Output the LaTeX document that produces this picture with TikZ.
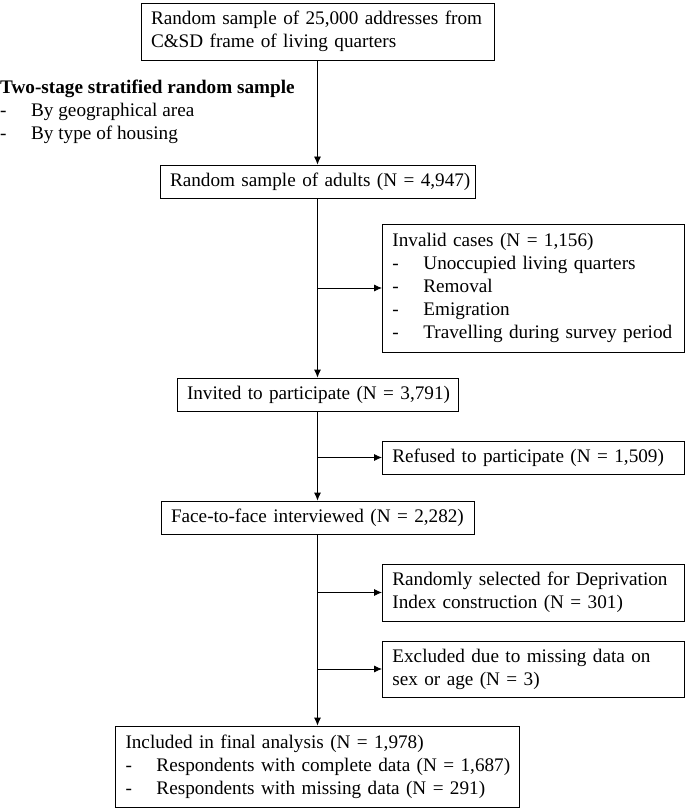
\documentclass[tikz,border=0pt]{standalone}
\usepackage{fontspec}
\setmainfont{Liberation Serif}
\usetikzlibrary{shapes.geometric, arrows.meta}

\newcommand{\boxfont}{\fontsize{19.2}{23}\selectfont}
\newcommand{\litem}[1]{\mbox{\makebox[31pt][l]{-}#1}}

\tikzstyle{stage} = [rectangle, draw=black, line width=0.8pt, inner xsep=10pt, inner ysep=0pt, align=left, font=\boxfont]
\tikzstyle{drop} = [stage, anchor=west, text width=282pt]
\tikzstyle{arrow} = [line width=0.8pt, -{Latex[length=8pt,width=7pt]}]

\begin{document}
\begin{tikzpicture}[x=1pt, y=1pt]
\useasboundingbox (0,0) rectangle (685,-810);

\node (sample) [stage, text width=333pt, minimum height=57pt] at (317.5,-31.5) {\mbox{Random sample of 25,000 addresses from}\\\mbox{C\&SD frame of living quarters}};
\node (adults) [stage, text width=295pt, minimum height=33pt, below of=sample, node distance=150pt] {\mbox{Random sample of adults (N = 4,947)}};
\node (invited) [stage, text width=261pt, minimum height=33pt, below of=adults, node distance=213pt] {\mbox{Invited to participate (N = 3,791)}};
\node (face) [stage, text width=293pt, minimum height=33pt, below of=invited, node distance=123pt] {\mbox{Face-to-face interviewed (N = 2,282)}};
\node (final) [stage, text width=384pt, minimum height=81pt, below of=face, node distance=249pt] {\mbox{Included in final analysis (N = 1,978)}\\\litem{Respondents with complete data (N = 1,687)}\\\litem{Respondents with missing data (N = 291)}};

\node (strat) [anchor=west, align=left, font=\boxfont, inner sep=0pt] at (0,-112) {\textbf{Two-stage stratified random sample}\\\litem{By geographical area}\\\litem{By type of housing}};

\node (invalid) [drop, minimum height=128pt] at (382,-288) {\mbox{Invalid cases (N = 1,156)}\\\litem{Unoccupied living quarters}\\\litem{Removal}\\\litem{Emigration}\\\litem{Travelling during survey period}};
\node (refused) [drop, minimum height=33pt] at (382,-457.5) {\mbox{Refused to participate (N = 1,509)}};
\node (deprived) [drop, minimum height=57pt] at (382,-592.5) {\mbox{Randomly selected for Deprivation}\\\mbox{Index construction (N = 301)}};
\node (excluded) [drop, minimum height=56pt] at (382,-669) {\mbox{Excluded due to missing data on}\\\mbox{sex or age (N = 3)}};

% main flow
\draw [arrow] (sample) -- (adults);
\draw [arrow] (adults) -- (invited);
\draw [arrow] (invited) -- (face);
\draw [arrow] (face) -- (final);

% drop-outs
\coordinate (split1) at (adults.south |- invalid.west);
\coordinate (split2) at (invited.south |- refused.west);
\coordinate (split3) at (face.south |- deprived.west);
\coordinate (split4) at (face.south |- excluded.west);
\draw [arrow] (split1) -- (invalid);
\draw [arrow] (split2) -- (refused);
\draw [arrow] (split3) -- (deprived);
\draw [arrow] (split4) -- (excluded);

\end{tikzpicture}
\end{document}
